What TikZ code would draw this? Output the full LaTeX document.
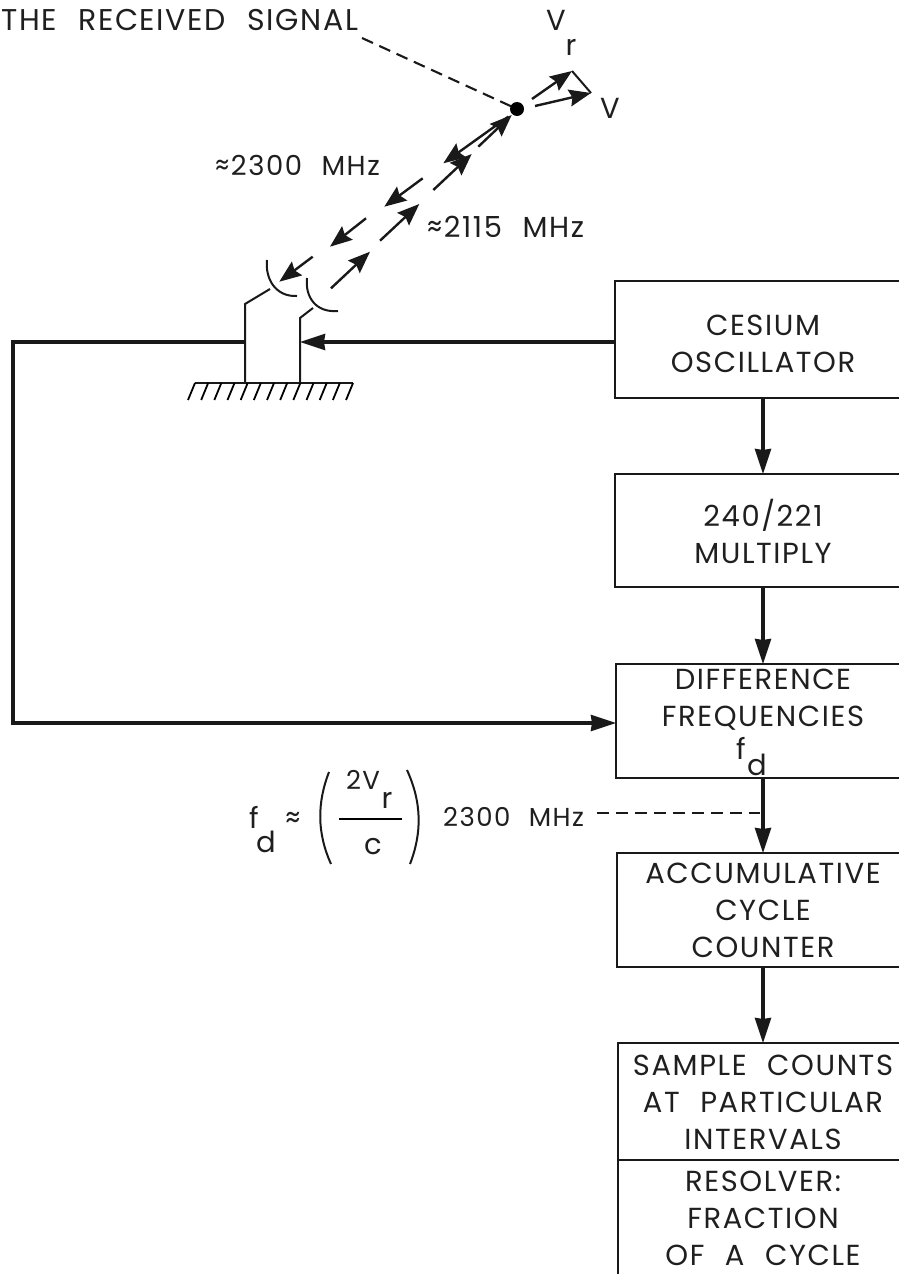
\documentclass[tikz,border=0pt]{standalone}
\usepackage{fontspec}
\setmainfont{Poppins}
\newfontfamily\wideface[LetterSpace=5.5,WordSpace=2.2]{Poppins}
\usetikzlibrary{arrows.meta}
\tikzset{
  every node/.style={font=\wideface\fontsize{29}{37}\selectfont,inner sep=0pt,text=black!88},
  thinline/.style={line width=2pt,draw=black!90},
  thickline/.style={line width=3.4pt,draw=black!90},
  flowbox/.style={thinline},
  lbl/.style={align=center},
  small/.style={font=\wideface\fontsize{26}{30}\selectfont},
  wave/.style={line width=2.4pt,draw=black!90,-{Stealth[length=22pt,width=17pt,inset=3pt]}},
  flow/.style={thickline,-{Stealth[length=25pt,width=16pt,inset=1pt]}},
  dashline/.style={line width=2.1pt,draw=black!90,dash pattern=on 12pt off 7pt},
}
\begin{document}
\begin{tikzpicture}[x=1pt,y=-1pt]
\useasboundingbox (0,0) rectangle (899,1274);
\clip (0,0) rectangle (899,1274);
% boxes
\draw[flowbox] (915,281) -- (615,281) -- (615,398) -- (915,398);
\draw[flowbox] (915,474) -- (615,474) -- (615,587) -- (915,587);
\draw[flowbox] (915,664) -- (616,664) -- (616,778) -- (915,778);
\draw[flowbox] (915,853) -- (617,853) -- (617,967) -- (915,967);
\draw[flowbox] (618,1285) -- (618,1043) -- (915,1043);
\draw[flowbox] (618,1160) -- (915,1160);
\coordinate (cesOut) at (763,398);
\coordinate (mulIn) at (763,474);
\coordinate (mulOut) at (763,587);
\coordinate (difIn) at (763,664);
\coordinate (difOut) at (763,778);
\coordinate (accIn) at (763,853);
\coordinate (accOut) at (763,967);
\coordinate (samIn) at (763,1043);
\coordinate (cesL) at (615,342);
\coordinate (difL) at (616,723);
\coordinate (antR) at (300,342);
\coordinate (antL) at (245,342);
\coordinate (corT) at (13,342);
\coordinate (corB) at (13,723);
\draw[flow] (cesOut) -- (mulIn);
\draw[flow] (mulOut) -- (difIn);
\draw[flow] (difOut) -- (accIn);
\draw[flow] (accOut) -- (samIn);
\draw[flow] (cesL) -- (antR);
\draw[flow] (antL) -- (corT) -- (corB) -- (difL);
% antennas
\draw[thinline] (245,383) -- (245,304) -- (270,289);
\draw[thinline] (300,383) -- (300,318) -- (313,308);
\draw[thinline] (267,260) .. controls (265,278) and (275,297) .. (297,296);
\draw[thinline] (307,278) .. controls (305,296) and (315,313) .. (338,311);
\draw[thinline] (195,383) -- (353,383);
\foreach \x in {195,208.17,...,354} \draw[line width=1.8pt] (\x,383) -- (\x-7,400);
% target
\fill[black] (517,109) circle (7);
\coordinate (tgt) at (517,109);
\coordinate (leader) at (362,38);
\draw[dashline] (leader) -- (tgt);
\draw[wave] (532,99) -- (572,71);
\draw[wave] (535,106) -- (591,93);
\draw[thinline] (572,71) -- (591,93);
\draw[wave] (331,288.3) -- (370,251.7);
\draw[wave] (380,240.7) -- (419.3,204);
\draw[wave] (433.3,190) -- (471.7,154);
\draw[wave] (478.3,146.7) -- (511.7,115);
\draw[wave] (508.3,116.7) -- (443.3,163.3);
\draw[wave] (422.7,178.3) -- (384.3,206.7);
\draw[wave] (366,218.3) -- (330,246.7);
\draw[wave] (312.7,256.7) -- (279.3,281.7);
% labels
\node[anchor=west,font=\wideface\fontsize{30}{37}\selectfont] (recv) at (1,20) {THE RECEIVED SIGNAL};
\node (vr) at (556,20) {V};
\node (vrs) at (571,47) {r};
\node (vv) at (610,108) {V};
\node[anchor=west,font=\wideface\fontsize{27.5}{37}\selectfont] (f1) at (215,165) {≈2300 MHz};
\node[anchor=west] (f2) at (427,227) {≈2115 MHz};
\node[lbl] (ces) at (763,344) {CESIUM\\OSCILLATOR};
\node[lbl] (mul) at (763,531) {240/221\\MULTIPLY};
\node[lbl] (dif) at (763,700) {DIFFERENCE\\FREQUENCIES};
\node (dff) at (741,748) {f};
\node (dfd) at (757,765) {d};
\node[lbl] (acc) at (763,910) {ACCUMULATIVE\\CYCLE\\COUNTER};
\node[lbl] (sam) at (763,1102) {SAMPLE COUNTS\\AT PARTICULAR\\INTERVALS};
\node[lbl] (res) at (763,1218) {RESOLVER:\\FRACTION\\OF A CYCLE};
% formula
\node (ff) at (254,817) {f};
\node (fd) at (266,842) {d};
\node (fa) at (293,820) {≈};
\draw[thinline] (329,772) .. controls (317,803) and (317,833) .. (331,864);
\draw[thinline] (407,770) .. controls (422,803) and (422,833) .. (410,864);
\draw[line width=2.4pt] (339,819) -- (401.5,819);
\node[small] (fv) at (363,780) {2V};
\node (fr) at (387,800) {r};
\node (fc) at (373,847) {c};
\node[anchor=west,small] (fm) at (443,817) {2300 MHz};
\coordinate (dashS) at (597,813);
\coordinate (dashE) at (760,813);
\draw[dashline] (dashS) -- (dashE);
\end{tikzpicture}
\end{document}
